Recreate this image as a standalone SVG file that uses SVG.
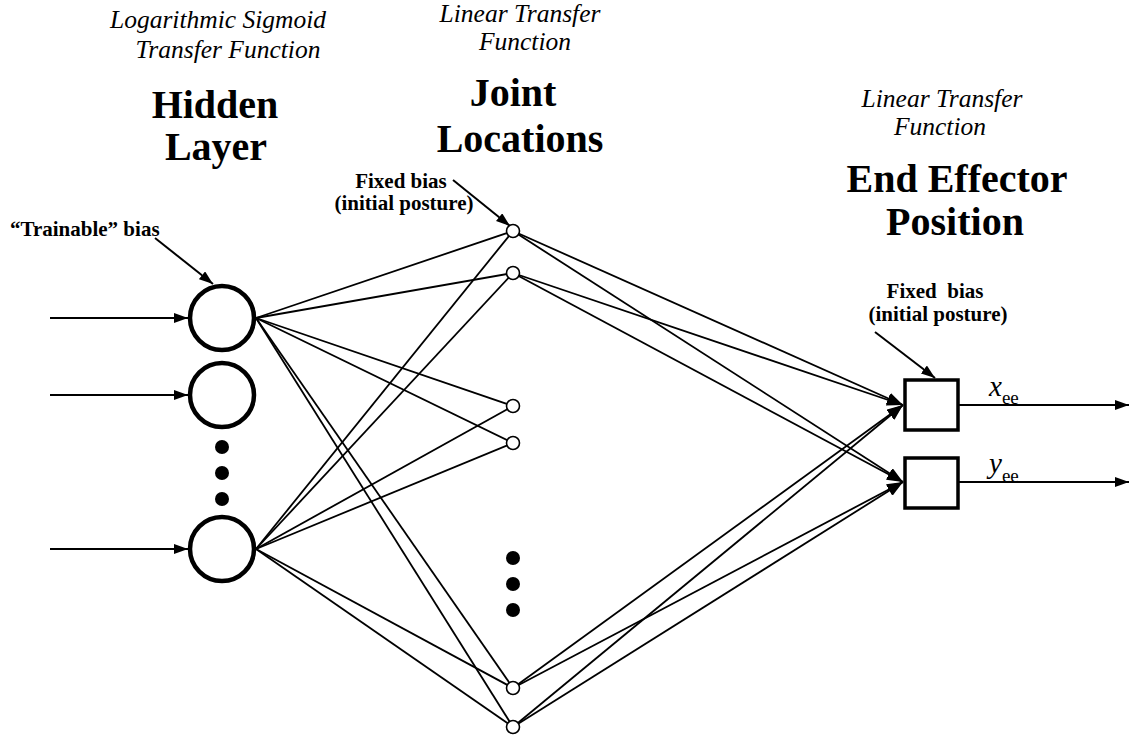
<svg xmlns="http://www.w3.org/2000/svg" width="1130" height="738" viewBox="0 0 1130 738">
  <style>
    text { font-family: "Liberation Serif", "Times New Roman", serif; fill: #000; }
    .it { font-style: italic; font-size: 25.5px; }
    .hd { font-weight: bold; font-size: 40px; }
    .lb { font-weight: bold; font-size: 21px; white-space: pre; }
    .sym { font-style: italic; font-size: 29px; }
    .sub { font-size: 19px; }
    .wire { stroke: #000; stroke-width: 1.8; fill: none; }
    .arr { stroke: #000; stroke-width: 2; fill: none; }
    .neuron { fill: #fff; stroke: #000; stroke-width: 4.5; }
    .joint { fill: #fff; stroke: #000; stroke-width: 1.6; }
    .box { fill: #fff; stroke: #000; stroke-width: 3.5; }
    .dot { fill: #000; }
  </style>
  <defs>
    <marker id="head" viewBox="0 0 14 10" refX="14" refY="5" markerWidth="14" markerHeight="10" markerUnits="userSpaceOnUse" orient="auto">
      <path d="M0,0 L14,5 L0,10 Z" fill="#000"/>
    </marker>
    <marker id="head-lg" viewBox="0 0 16 12" refX="16" refY="6" markerWidth="16" markerHeight="12" markerUnits="userSpaceOnUse" orient="auto">
      <path d="M0,0 L16,6 L0,12 Z" fill="#000"/>
    </marker>
  </defs>

  <!-- column titles -->
  <g id="titles">
    <text class="it" x="218" y="28" text-anchor="middle">Logarithmic Sigmoid</text>
    <text class="it" x="228" y="58" text-anchor="middle">Transfer Function</text>
    <text class="hd" x="215" y="118" text-anchor="middle">Hidden</text>
    <text class="hd" x="216" y="160" text-anchor="middle">Layer</text>

    <text class="it" x="520" y="22" text-anchor="middle">Linear Transfer</text>
    <text class="it" x="525" y="50" text-anchor="middle">Function</text>
    <text class="hd" x="513" y="106" text-anchor="middle">Joint</text>
    <text class="hd" x="520" y="152" text-anchor="middle">Locations</text>

    <text class="it" x="942" y="107" text-anchor="middle">Linear Transfer</text>
    <text class="it" x="940" y="135" text-anchor="middle">Function</text>
    <text class="hd" x="957" y="192" text-anchor="middle">End Effector</text>
    <text class="hd" x="955" y="235" text-anchor="middle">Position</text>
  </g>

  <!-- bias annotations -->
  <g id="bias-labels">
    <text class="lb" x="10" y="236">“Trainable” bias</text>
    <text class="lb" x="401" y="188" text-anchor="middle">Fixed bias</text>
    <text class="lb" x="404" y="210" text-anchor="middle">(initial posture)</text>
    <text class="lb" x="935" y="298" text-anchor="middle">Fixed  bias</text>
    <text class="lb" x="938" y="321" text-anchor="middle">(initial posture)</text>
  </g>

  <!-- connectors -->
  <g id="connectors">
    <!-- inputs -->
    <line class="arr" x1="50" y1="318" x2="188" y2="318" marker-end="url(#head)"/>
    <line class="arr" x1="50" y1="395" x2="188" y2="395" marker-end="url(#head)"/>
    <line class="arr" x1="50" y1="549" x2="188" y2="549" marker-end="url(#head)"/>
    <!-- bias pointers -->
    <line class="arr" x1="155" y1="238" x2="213" y2="284" marker-end="url(#head)"/>
    <line class="arr" x1="453" y1="180" x2="510" y2="226" marker-end="url(#head)"/>
    <line class="arr" x1="875" y1="332" x2="935" y2="378" marker-end="url(#head)"/>
    <!-- hidden to joints -->
    <line class="wire" x1="256" y1="318" x2="513" y2="231"/>
    <line class="wire" x1="256" y1="318" x2="513" y2="273"/>
    <line class="wire" x1="256" y1="318" x2="513" y2="406"/>
    <line class="wire" x1="256" y1="318" x2="513" y2="443"/>
    <line class="wire" x1="256" y1="318" x2="513" y2="688"/>
    <line class="wire" x1="256" y1="318" x2="513" y2="727"/>
    <line class="wire" x1="256" y1="549" x2="513" y2="231"/>
    <line class="wire" x1="256" y1="549" x2="513" y2="273"/>
    <line class="wire" x1="256" y1="549" x2="513" y2="406"/>
    <line class="wire" x1="256" y1="549" x2="513" y2="443"/>
    <line class="wire" x1="256" y1="549" x2="513" y2="688"/>
    <line class="wire" x1="256" y1="549" x2="513" y2="727"/>
    <!-- joints to end effector -->
    <line class="wire" x1="513" y1="231" x2="903" y2="405" marker-end="url(#head-lg)"/>
    <line class="wire" x1="513" y1="273" x2="903" y2="405" marker-end="url(#head-lg)"/>
    <line class="wire" x1="513" y1="688" x2="903" y2="405" marker-end="url(#head-lg)"/>
    <line class="wire" x1="513" y1="727" x2="903" y2="405" marker-end="url(#head-lg)"/>
    <line class="wire" x1="513" y1="231" x2="903" y2="482" marker-end="url(#head-lg)"/>
    <line class="wire" x1="513" y1="273" x2="903" y2="482" marker-end="url(#head-lg)"/>
    <line class="wire" x1="513" y1="688" x2="903" y2="482" marker-end="url(#head-lg)"/>
    <line class="wire" x1="513" y1="727" x2="903" y2="482" marker-end="url(#head-lg)"/>
    <!-- outputs -->
    <line class="arr" x1="958" y1="405" x2="1129" y2="405" marker-end="url(#head)"/>
    <line class="arr" x1="958" y1="482" x2="1129" y2="482" marker-end="url(#head)"/>
  </g>

  <!-- hidden layer -->
  <g id="hidden-1"><circle class="neuron" cx="222" cy="318" r="32"/></g>
  <g id="hidden-2"><circle class="neuron" cx="222" cy="395" r="32"/></g>
  <g id="hidden-ellipsis">
    <circle class="dot" cx="222" cy="447" r="7"/>
    <circle class="dot" cx="222" cy="473" r="7"/>
    <circle class="dot" cx="222" cy="499" r="7"/>
  </g>
  <g id="hidden-n"><circle class="neuron" cx="222" cy="549" r="32"/></g>

  <!-- joint locations -->
  <g id="joint-1"><circle class="joint" cx="513" cy="231" r="6.5"/></g>
  <g id="joint-2"><circle class="joint" cx="513" cy="273" r="6.5"/></g>
  <g id="joint-3"><circle class="joint" cx="513" cy="406" r="6.5"/></g>
  <g id="joint-4"><circle class="joint" cx="513" cy="443" r="6.5"/></g>
  <g id="joint-ellipsis">
    <circle class="dot" cx="513" cy="558" r="7"/>
    <circle class="dot" cx="513" cy="584" r="7"/>
    <circle class="dot" cx="513" cy="610" r="7"/>
  </g>
  <g id="joint-5"><circle class="joint" cx="513" cy="688" r="6.5"/></g>
  <g id="joint-6"><circle class="joint" cx="513" cy="727" r="6.5"/></g>

  <!-- end effector outputs -->
  <g id="out-x">
    <rect class="box" x="905" y="380" width="53" height="50"/>
    <text x="989" y="396"><tspan class="sym">x</tspan><tspan class="sub" dy="8">ee</tspan></text>
  </g>
  <g id="out-y">
    <rect class="box" x="905" y="458" width="53" height="50"/>
    <text x="989" y="473"><tspan class="sym">y</tspan><tspan class="sub" dy="9">ee</tspan></text>
  </g>
</svg>
